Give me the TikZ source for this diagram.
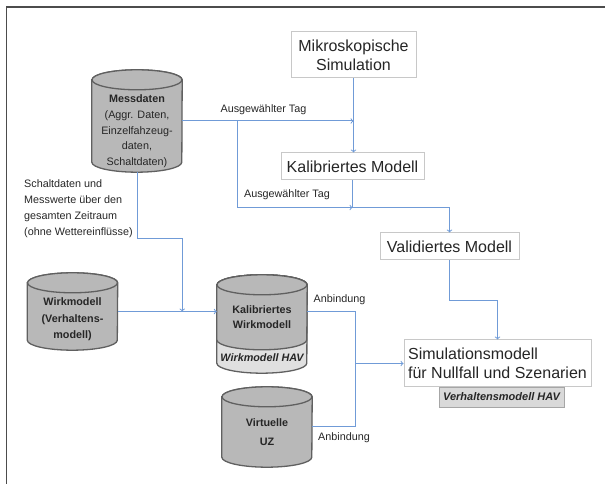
\documentclass[tikz,border=0pt]{standalone}
\usepackage{fontspec}
\setmainfont{Liberation Sans}

\definecolor{linie}{RGB}{112,155,215}
\definecolor{zylgrau}{RGB}{184,184,184}
\definecolor{zylrand}{RGB}{96,96,96}
\definecolor{bandgrau}{RGB}{224,224,224}
\definecolor{boxrand}{RGB}{200,200,200}
\definecolor{textgrau}{RGB}{38,38,38}

\tikzset{
    modell/.style={draw=boxrand, fill=white, line width=1pt, text=textgrau,
        font=\fontsize{16}{19}\selectfont, align=center, inner sep=0pt},
    zylinder/.style={inner sep=0pt, minimum width=90pt},
    zylrahmen/.style={draw=zylrand, line width=1.3pt},
    zyltext/.style={align=center, text=textgrau, font=\fontsize{10.8}{15.7}\selectfont},
    hav/.style={draw=black!35, fill=black!15, text=textgrau, inner sep=0pt,
        font=\fontsize{11}{13}\selectfont\bfseries\itshape},
    fluss/.style={draw=linie, line width=1pt},
    beschriftung/.style={text=textgrau, font=\fontsize{10.8}{16}\selectfont, inner sep=0pt}
}

% Cylinder drawn around a named node: name, fill
\newcommand{\datenzylinder}[2]{
    \draw[zylrahmen, fill=#2] ([yshift=-10pt]#1.north west) -- ([yshift=10pt]#1.south west)
        arc[start angle=180, end angle=360, x radius=45, y radius=10]
        -- ([yshift=-10pt]#1.north east)
        arc[start angle=0, end angle=180, x radius=45, y radius=10] -- cycle;
    \draw[zylrahmen, fill=#2] ([yshift=-10pt]#1.north) ellipse [x radius=45, y radius=10];
}

\begin{document}
\begin{tikzpicture}[x=1pt,y=1pt]
    % Frame
    \useasboundingbox (0,0) rectangle (605,484);
    \draw[line width=1.5pt, draw=black!70] (6.5,0) -- (6.5,477) -- (605,477);

    % Model boxes
    \node[modell, minimum width=125pt, minimum height=46pt] (mikro) at (353.5,429) {Mikroskopische\\Simulation};
    \node[modell, minimum width=143pt, minimum height=27pt] (kalib) at (352.5,317.5) {Kalibriertes Modell};
    \node[modell, minimum width=139pt, minimum height=27pt] (valid) at (449.5,237.5) {Validiertes Modell};
    \node[modell, minimum width=187pt, minimum height=47pt, align=left] (simu) at (497.5,120.5) {Simulationsmodell\\für Nullfall und Szenarien};
    \node[hav, minimum width=125pt, minimum height=20pt] (simuhav) at (501.5,87) {Verhaltensmodell HAV};

    % Data stores
    \node[zylinder, minimum height=102pt] (mess) at (137,363) {};
    \node[zylinder, minimum height=77pt] (wirk) at (72.5,172.5) {};
    \node[zylinder, minimum height=98pt] (kalwirk) at (262,160) {};
    \node[zylinder, minimum height=80pt] (uz) at (267,57) {};
    \datenzylinder{mess}{zylgrau}
    \datenzylinder{wirk}{zylgrau}
    \datenzylinder{kalwirk}{bandgrau}
    \datenzylinder{uz}{zylgrau}

    % Upper part of the calibrated model
    \draw[zylrahmen, fill=zylgrau] ([yshift=-10pt]kalwirk.north west) -- ([yshift=-65pt]kalwirk.north west)
        arc[start angle=180, end angle=360, x radius=45, y radius=10]
        -- ([yshift=-10pt]kalwirk.north east)
        arc[start angle=0, end angle=180, x radius=45, y radius=10] -- cycle;
    \draw[zylrahmen, fill=zylgrau] ([yshift=-10pt]kalwirk.north) ellipse [x radius=45, y radius=10];

    % Texts in the data stores
    \node[zyltext] at ([yshift=-10.5pt]mess.center) {\textbf{Messdaten}\\(Aggr. Daten,\\Einzelfahzeug-\\daten,\\Schaltdaten)};
    \node[zyltext, font=\fontsize{10.8}{16.5}\selectfont\bfseries] at ([yshift=-8pt]wirk.center) {Wirkmodell\\(Verhaltens-\\modell)};
    \node[zyltext, font=\fontsize{10.8}{15}\selectfont\bfseries] at ([yshift=6.5pt]kalwirk.center) {Kalibriertes\\Wirkmodell};
    \node[zyltext, font=\fontsize{10.8}{13}\selectfont\bfseries\itshape] at ([yshift=-34pt]kalwirk.center) {Wirkmodell HAV};
    \node[zyltext, font=\fontsize{10.8}{19}\selectfont\bfseries] at ([yshift=-5.5pt]uz.center) {Virtuelle\\UZ};

    % Connectors on the right
    \coordinate (abzweig) at ([xshift=55pt]mess.east);
    \coordinate (tag2) at ([yshift=-27pt]kalib.south);
    \draw[fluss,->] (mess.east) -- (mess.east -| mikro.south);
    \draw[fluss,->] (mikro.south) -- (mikro.south |- kalib.north);
    \draw[fluss,->] (abzweig) |- (tag2);
    \draw[fluss,->] (kalib.south) -- (tag2) -| (valid.north);
    \draw[fluss,->] (valid.south) -- ++(0,-40) -| (simu.north);

    % Connectors on the left
    \coordinate (knick) at ([yshift=-66pt]mess.south);
    \draw[fluss,->] (wirk.east) -- (wirk.east -| kalwirk.west);
    \draw[fluss,->] (mess.south) -- (knick) -| (mess.east |- wirk.east);

    % Anbindung
    \coordinate (sammel) at ([xshift=48pt]kalwirk.east |- wirk.east);
    \draw[fluss] (kalwirk.east |- wirk.east) -- (sammel) |- (uz.east);
    \draw[fluss,->] (sammel |- simu.west) -- (simu.west);

    % Labels
    \node[beschriftung] (tag1text) at (263.5,374) {Ausgewählter Tag};
    \node[beschriftung] (tag2text) at (287,289) {Ausgewählter Tag};
    \node[beschriftung] (anb1text) at (339.5,184) {Anbindung};
    \node[beschriftung] (anb2text) at (344,46) {Anbindung};
    \node[beschriftung, align=left, anchor=west] (schalttext) at (24,275) {Schaltdaten und\\Messwerte über den\\gesamten Zeitraum\\(ohne Wettereinflüsse)};
\end{tikzpicture}
\end{document}
